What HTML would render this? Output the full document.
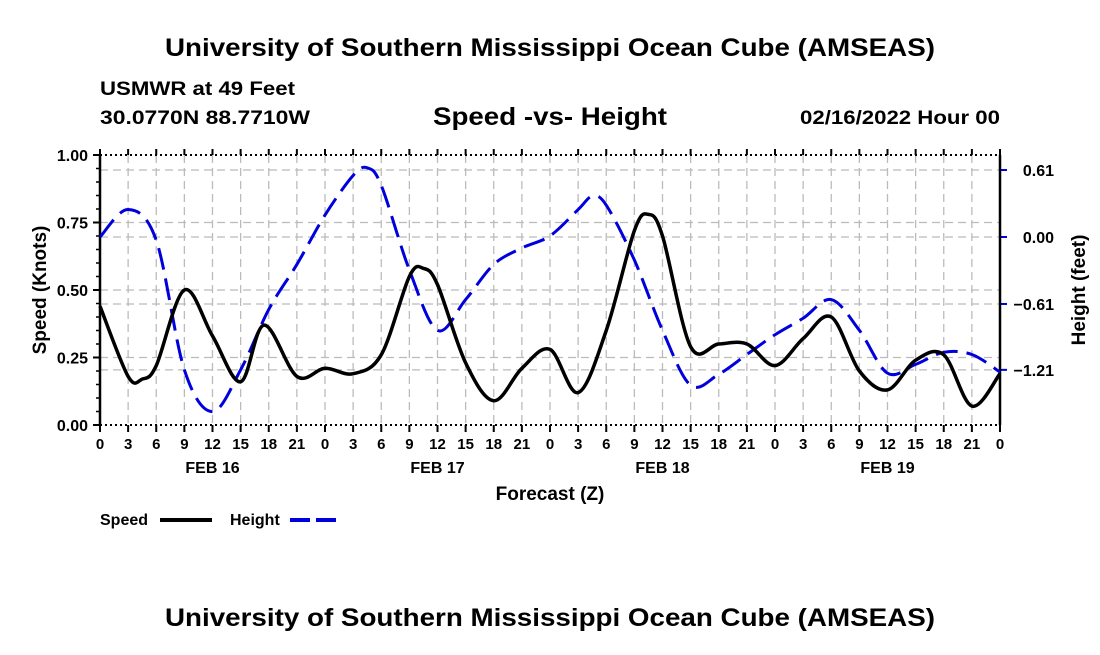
<!DOCTYPE html>
<html><head><meta charset="utf-8"><style>
body{margin:0;background:#fff;width:1100px;height:650px;overflow:hidden;font-family:"Liberation Sans",sans-serif}
svg text{font-family:"Liberation Sans",sans-serif;font-weight:bold;fill:#000}
</style></head><body>
<svg id="c" width="1100" height="650">
<text x="165" y="56" font-size="25" textLength="770" lengthAdjust="spacingAndGlyphs">University of Southern Mississippi Ocean Cube (AMSEAS)</text>
<text x="100" y="95" font-size="19" textLength="195" lengthAdjust="spacingAndGlyphs">USMWR at 49 Feet</text>
<text x="100" y="124" font-size="19" textLength="210" lengthAdjust="spacingAndGlyphs">30.0770N  88.7710W</text>
<text x="433" y="125" font-size="25" textLength="234" lengthAdjust="spacingAndGlyphs">Speed -vs- Height</text>
<text x="800" y="124" font-size="19" textLength="200" lengthAdjust="spacingAndGlyphs">02/16/2022 Hour 00</text>
<text x="165" y="626" font-size="25" textLength="770" lengthAdjust="spacingAndGlyphs">University of Southern Mississippi Ocean Cube (AMSEAS)</text>
<g id="grid"></g><g id="axes"></g><g id="series"></g>
<text x="550" y="500" font-size="19" text-anchor="middle">Forecast (Z)</text>
<text transform="translate(46,290) rotate(-90)" font-size="19" text-anchor="middle">Speed (Knots)</text>
<text transform="translate(1085,290) rotate(-90)" font-size="19" text-anchor="middle">Height (feet)</text>
<g>
<text x="100" y="525" font-size="16">Speed</text>
<line x1="160" y1="520" x2="212" y2="520" stroke="#000" stroke-width="4"/>
<text x="230" y="525" font-size="16">Height</text>
<line x1="290" y1="520" x2="342" y2="520" stroke="#0000dd" stroke-width="4" stroke-dasharray="20,6"/>
</g>
</svg>
<script>
const speedHours=[0,3,4.5,6,9,12,15,17.5,21,24,27,30,33,34.5,36,39,42,45,48,51,54,57,58.5,60,63,66,69,72,75,78,81,84,87,90,93,96];
const speedVals=[0.44,0.18,0.17,0.22,0.50,0.33,0.16,0.37,0.18,0.21,0.19,0.26,0.55,0.58,0.52,0.23,0.09,0.21,0.28,0.12,0.35,0.72,0.78,0.70,0.29,0.30,0.30,0.22,0.32,0.40,0.20,0.13,0.24,0.26,0.07,0.19];
const heightHours=[0,3,6,9,12,15,18,21,24,27,28.5,30,33,36,39,42,45,48,51,52.5,54,57,60,63,66,69,72,75,78,81,84,87,90,93,96];
const heightVals=[0.0,0.25,-0.03,-1.21,-1.59,-1.21,-0.66,-0.25,0.20,0.56,0.63,0.47,-0.30,-0.85,-0.57,-0.25,-0.10,0.01,0.25,0.37,0.29,-0.21,-0.85,-1.35,-1.25,-1.07,-0.89,-0.74,-0.57,-0.85,-1.24,-1.16,-1.05,-1.07,-1.23];
const speedTicks=[0,0.25,0.5,0.75,1.0];
const heightTicks=[0.61,0.00,-0.61,-1.21];
const xTickLabels=["0","3","6","9","12","15","18","21"];
const dayLabels=["FEB 16","FEB 17","FEB 18","FEB 19"];
const L=100,R=1000,T=155,B=425;
const xs=h=>L+(R-L)*h/96;
const ys=v=>B-(B-T)*v;
const yh=v=>237-v*109.8;
const NS="http://www.w3.org/2000/svg";
function mk(tag,at,parent){const e=document.createElementNS(NS,tag);for(const k in at)e.setAttribute(k,at[k]);parent.appendChild(e);return e;}
const grid=document.getElementById('grid'),axes=document.getElementById('axes'),ser=document.getElementById('series');
for(let i=1;i<32;i++){const x=xs(i*3);
 const g=mk('line',{x1:x,y1:T,x2:x,y2:B,stroke:'#bbb','stroke-width':1.3,'stroke-dasharray':'8,5'},grid);
 
 }
speedTicks.forEach(v=>{if(v>0&&v<1){const g=mk('line',{x1:L,y1:ys(v),x2:R,y2:ys(v),stroke:'#bbb','stroke-width':1.3,'stroke-dasharray':'8,5'},grid);
 
 }
 const t=mk('line',{x1:L-7,y1:ys(v),x2:L,y2:ys(v),stroke:'#000','stroke-width':2},axes);
 
 
 const tx=mk('text',{x:L-12,y:ys(v)+6,'font-size':16,'text-anchor':'end'},axes);tx.textContent=v.toFixed(2);
 
 });
for(let v=0.05;v<1;v+=0.05){if(Math.abs(v*4-Math.round(v*4))<0.01)continue;mk('line',{x1:L-4,y1:ys(v),x2:L,y2:ys(v),stroke:'#000','stroke-width':1.5},axes);}
heightTicks.forEach(v=>{const g=mk('line',{x1:L,y1:yh(v),x2:R,y2:yh(v),stroke:'#bbb','stroke-width':1.3,'stroke-dasharray':'8,5'},grid);
 
 
 mk('line',{x1:R,y1:yh(v),x2:R+7,y2:yh(v),stroke:'#0000dd','stroke-width':2},axes);
 const tx=mk('text',{x:1054,y:yh(v)+6,'font-size':16,'text-anchor':'end'},axes);tx.textContent=(v<0?'\u2212':'')+Math.abs(v).toFixed(2);
 
 });
mk('line',{x1:L,y1:T,x2:R,y2:T,stroke:'#000','stroke-width':2,'stroke-dasharray':'2,3'},axes);
mk('line',{x1:L,y1:B,x2:R,y2:B,stroke:'#000','stroke-width':2,'stroke-dasharray':'2,3'},axes);
mk('line',{x1:L,y1:T,x2:L,y2:B,stroke:'#000','stroke-width':2.5},axes);
mk('line',{x1:R,y1:T,x2:R,y2:B,stroke:'#000','stroke-width':2.5},axes);
for(let i=0;i<=32;i++){const x=xs(i*3);
 mk('line',{x1:x,y1:B,x2:x,y2:B+7,stroke:'#000','stroke-width':2},axes);
 mk('line',{x1:x,y1:T-6,x2:x,y2:T,stroke:'#000','stroke-width':2},axes);
 const tx=mk('text',{x:x,y:B+24,'font-size':15,'text-anchor':'middle'},axes);tx.textContent=xTickLabels[i%8];
 
 }
dayLabels.forEach((d,i)=>{const tx=mk('text',{x:xs(12+24*i),y:B+48,'font-size':16,'text-anchor':'middle'},axes);tx.textContent=d;
 
 });
function path(hs,vs,fy){const P=hs.map((h,i)=>[xs(h),fy(vs[i])]);let d='M'+P[0][0]+','+P[0][1];
 for(let i=0;i<P.length-1;i++){const p0=P[Math.max(i-1,0)],p1=P[i],p2=P[i+1],p3=P[Math.min(i+2,P.length-1)];
  const c1=[p1[0]+(p2[0]-p0[0])/6,p1[1]+(p2[1]-p0[1])/6],c2=[p2[0]-(p3[0]-p1[0])/6,p2[1]-(p3[1]-p1[1])/6];
  d+=' C'+c1+' '+c2+' '+p2;}return d;}
const hp=mk('path',{d:path(heightHours,heightVals,yh),fill:'none',stroke:'#0000dd','stroke-width':3,'stroke-dasharray':'22,9'},ser);


const sp=mk('path',{d:path(speedHours,speedVals,ys),fill:'none',stroke:'#000','stroke-width':3.5},ser);


</script>
</body></html>
